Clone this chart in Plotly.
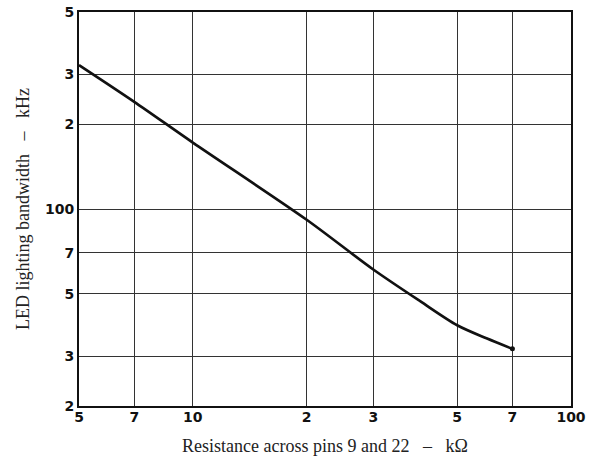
import numpy as np
import plotly.graph_objects as go

# Data (log-log chart)
resistance_kohm = [5, 7, 10, 20, 30, 40, 50, 60, 70]
bandwidth_khz = [324, 240, 172, 91.6, 61, 47, 38.7, 34.7, 31.9]

x_tick_vals = [5, 7, 10, 20, 30, 50, 70, 100]
x_tick_text = ["5", "7", "10", "2", "3", "5", "7", "100"]
y_tick_vals = [20, 30, 50, 70, 100, 200, 300, 500]
y_tick_text = ["2", "3", "5", "7", "100", "2", "3", "5"]

fig = go.Figure()
fig.add_trace(go.Scatter(
    x=resistance_kohm, y=bandwidth_khz, mode="lines",
    line=dict(color="#111111", width=2.7, shape="spline", smoothing=0.8),
    showlegend=False, hoverinfo="skip"))
fig.add_trace(go.Scatter(
    x=resistance_kohm[-1:], y=bandwidth_khz[-1:], mode="markers",
    marker=dict(color="#111111", size=5), showlegend=False, hoverinfo="skip"))

tick_font = dict(family="DejaVu Sans", size=14, color="#111111")
title_font = dict(family="Liberation Serif", size=18, color="#222222")

fig.update_xaxes(
    type="log", range=[np.log10(5), 2], automargin=False,
    tickvals=x_tick_vals, ticktext=["<b>%s</b>" % t for t in x_tick_text],
    tickfont=tick_font, ticks="", ticklen=0, ticklabelstandoff=-3,
    ticklabeloverflow="allow",
    showgrid=True, gridcolor="#333333", gridwidth=1,
    showline=True, linecolor="#111111", linewidth=2, mirror=True,
    zeroline=False,
    title=dict(text="Resistance across pins 9 and 22   –   kΩ", font=title_font, standoff=16))
fig.update_yaxes(
    type="log", range=[np.log10(20), np.log10(500)], automargin=False,
    tickvals=y_tick_vals, ticktext=["<b>%s</b>" % t for t in y_tick_text],
    tickfont=tick_font, ticks="", ticklen=0, ticklabelstandoff=0,
    ticklabeloverflow="allow",
    showgrid=True, gridcolor="#333333", gridwidth=1,
    showline=True, linecolor="#111111", linewidth=2, mirror=True,
    zeroline=False,
    title=dict(text="LED lighting bandwidth   –   kHz", font=title_font, standoff=11))

fig.update_layout(
    width=603, height=457,
    margin=dict(l=79, r=32, t=12, b=51),
    paper_bgcolor="white", plot_bgcolor="white",
)
fig.write_html("out.html", config={"displayModeBar": False},
               post_script="document.body.style.margin='0';")
